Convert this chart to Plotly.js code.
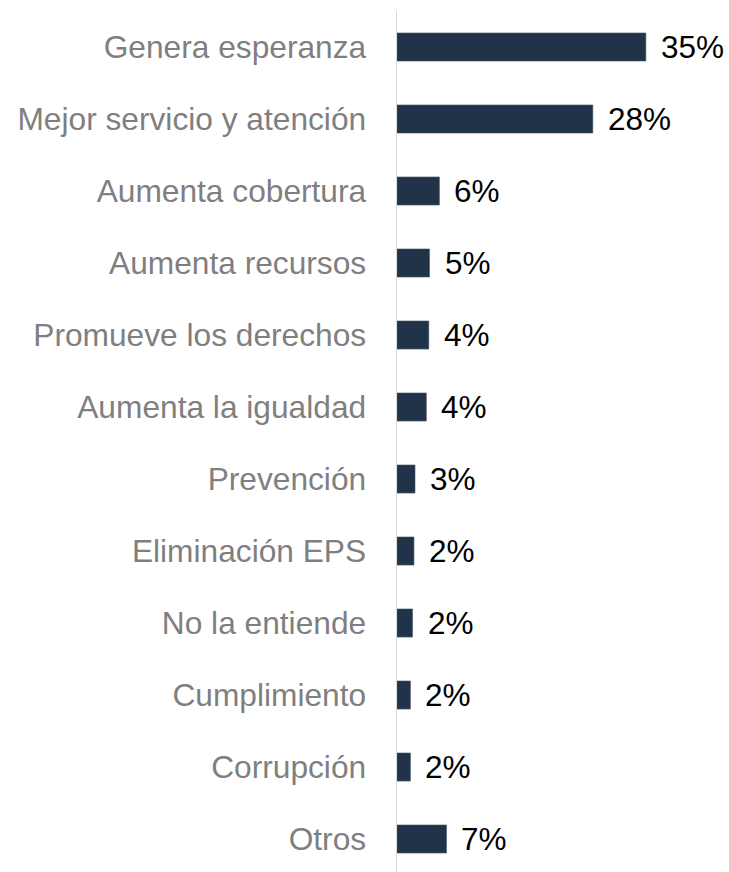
<!DOCTYPE html>
<html>
<head>
<meta charset="utf-8">
<script src="https://cdn.plot.ly/plotly-3.0.1.min.js"></script>
<style>html,body{margin:0;padding:0;background:#fff;}#chart{width:729px;height:872px;}</style>
</head>
<body>
<div id="chart"></div>
<script>
const categories = ["Genera esperanza","Mejor servicio y atención","Aumenta cobertura","Aumenta recursos","Promueve los derechos","Aumenta la igualdad","Prevención","Eliminación EPS","No la entiende","Cumplimiento","Corrupción","Otros"];
const values = [35.2, 27.7, 6.0, 4.6, 4.5, 4.15, 2.55, 2.4, 2.2, 1.9, 1.9, 7.0];
const valueLabels = ["35%","28%","6%","5%","4%","4%","3%","2%","2%","2%","2%","7%"];

const trace = {
  type: 'bar',
  orientation: 'h',
  x: values,
  y: categories,
  marker: {color: '#213349', line: {color: '#4a5a70', width: 0.6}},
  hoverinfo: 'none'
};

const annotations = categories.map((c, i) => ({
  x: values[i], y: c, xref: 'x', yref: 'y',
  text: valueLabels[i], showarrow: false,
  xanchor: 'left', yanchor: 'middle', xshift: 13,
  font: {family: 'Liberation Sans, Arial, sans-serif', size: 31.5, color: '#000000'}
}));

const layout = {
  width: 729, height: 872,
  margin: {l: 397, r: 0, t: 11, b: 0, pad: 0},
  paper_bgcolor: '#ffffff', plot_bgcolor: '#ffffff',
  showlegend: false,
  bargap: 0.61,
  xaxis: {range: [0, 46.96], showgrid: false, zeroline: false, showline: false, showticklabels: false, ticks: '', fixedrange: true},
  yaxis: {
    type: 'category', range: [11.458, -0.5], autorange: false,
    showgrid: false, zeroline: false,
    showline: true, linecolor: '#d9d9d9', linewidth: 1.5,
    ticks: '', ticklabelstandoff: 23,
    tickfont: {family: 'Liberation Sans, Arial, sans-serif', size: 31.7, color: '#7f7f7f'}
  },
  annotations: annotations
};

Plotly.newPlot('chart', [trace], layout, {staticPlot: true, displayModeBar: false});
</script>
</body>
</html>
